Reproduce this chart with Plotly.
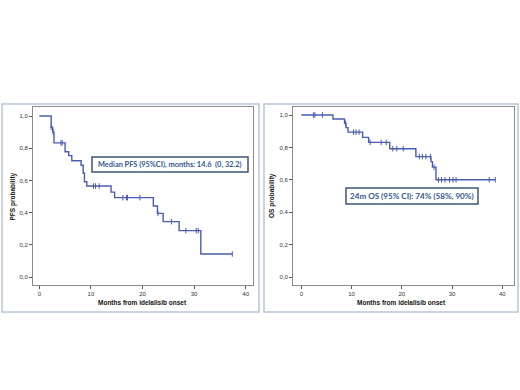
import numpy as np
import plotly.graph_objects as go

# ---------------- data ----------------
pfs_times = [0, 2.3, 2.6, 2.85, 5.0, 5.7, 6.3, 8.1, 8.5, 8.75, 9.2, 13.9, 14.6, 22.1, 22.9, 24.0, 27.1, 31.3, 37.4]
pfs_surv = [1.0, 0.93, 0.90, 0.833, 0.778, 0.754, 0.722, 0.694, 0.644, 0.592, 0.565, 0.527, 0.493, 0.441, 0.395, 0.344, 0.288, 0.143, 0.143]
pfs_censor = [2.3, 2.7, 4.2, 4.45, 10.5, 10.9, 11.6, 16.2, 16.9, 17.1, 19.5, 23.0, 25.6, 28.4, 30.4, 30.8, 37.4]

os_times = [0, 6.3, 8.6, 8.9, 9.3, 12.2, 13.4, 17.6, 22.8, 25.8, 26.1, 26.8, 38.6]
os_surv = [1.0, 0.975, 0.949, 0.922, 0.894, 0.862, 0.831, 0.792, 0.743, 0.712, 0.678, 0.600, 0.600]
os_censor = [2.4, 2.7, 4.2, 8.8, 10.4, 10.9, 11.5, 13.7, 15.9, 16.9, 18.2, 19.0, 20.3,
             23.5, 24.1, 24.8, 25.7, 26.4, 27.3, 27.9, 28.6, 29.5, 30.2, 30.8, 37.4, 38.6]

x_ticks = [0, 10, 20, 30, 40]
y_ticks = [0.0, 0.2, 0.4, 0.6, 0.8, 1.0]
y_ticklabels = ["0,0", "0,2", "0,4", "0,6", "0,8", "1,0"]

pfs_ytitle = "PFS probability"
os_ytitle = "OS probability"
x_title = "Months from idelalisib onset"
pfs_note = "Median PFS (95%CI), months: 14.6  (0, 32.2)"
os_note = "24m OS (95% CI): 74% (58%, 90%)"

# ---------------- layout helpers ----------------
W, H = 520, 390
LINE = "#4a5cb0"


def px(x):
    return x / W


def py(y):
    return 1 - y / H


def surv_at(times, surv, t):
    idx = np.searchsorted(np.array(times), t, side="right") - 1
    return surv[max(idx, 0)]


fig = go.Figure()

panels = [
    (pfs_times, pfs_surv, pfs_censor, pfs_ytitle, "x", "y", (33, 253, 107, 285), 39.3, 245.7, 116, 277),
    (os_times, os_surv, os_censor, os_ytitle, "x2", "y2", (293, 514, 107, 285), 301.3, 502.3, 115, 277),
]

for i, (tt, ss, cc, ytitle, xa, ya, frame, x0p, x40p, y1p, y0p) in enumerate(panels):
    fig.add_trace(go.Scatter(x=tt, y=ss, mode="lines", line=dict(color=LINE, width=1.4, shape="hv"),
                             xaxis=xa, yaxis=ya, showlegend=False, hoverinfo="skip"))
    cy = [surv_at(tt, ss, t) for t in cc]
    fig.add_trace(go.Scatter(x=cc, y=cy, mode="markers",
                             marker=dict(symbol="line-ns", size=4, line=dict(color=LINE, width=1)),
                             xaxis=xa, yaxis=ya, showlegend=False, hoverinfo="skip"))
    l, r, t, b = frame
    ppm = (x40p - x0p) / 40.0
    xr = [(l - x0p) / ppm, 40 + (r - x40p) / ppm]
    ppu = (y0p - y1p)
    yr = [-(b - y0p) / ppu, 1 + (y1p - t) / ppu]
    axis_common = dict(showgrid=False, zeroline=False, showline=True, linecolor="#8c8c8c", linewidth=1,
                       mirror=True, ticks="outside", ticklen=3, tickcolor="#555555",
                       tickfont=dict(family="Liberation Sans", size=6, color="#333333"))
    xkey = "xaxis" if xa == "x" else "xaxis2"
    ykey = "yaxis" if ya == "y" else "yaxis2"
    fig.layout[xkey] = dict(domain=[px(l), px(r)], range=xr, anchor=ya, tickvals=x_ticks,
                            ticktext=[str(v) for v in x_ticks], **axis_common)
    fig.layout[ykey] = dict(domain=[py(b), py(t)], range=yr, anchor=xa, tickvals=y_ticks,
                            ticktext=y_ticklabels, **axis_common)
    fig.add_annotation(x=px((x0p + x40p) / 2), y=py(302), xref="paper", yref="paper",
                       xanchor="center", yanchor="middle",
                       text="<b>" + x_title + "</b>", showarrow=False,
                       font=dict(family="Liberation Sans", size=6.5, color="#111111"))
    fig.add_annotation(x=px(l - 21), y=py((y0p + y1p) / 2), xref="paper", yref="paper",
                       xanchor="center", yanchor="middle",
                       text="<b>" + ytitle + "</b>", showarrow=False, textangle=-90,
                       font=dict(family="Liberation Sans", size=6.5, color="#111111"))

# outer panel borders
for (l, r) in [(2, 259), (264, 518)]:
    fig.add_shape(type="rect", xref="paper", yref="paper", x0=px(l), x1=px(r), y0=py(312), y1=py(104),
                  line=dict(color="#b9c5d6", width=1.5))

# note boxes
notes = [(pfs_note, (92, 248, 157, 172), 7.4), (os_note, (346, 478, 188, 204), 8.1)]
for text, (l, r, t, b), fs in notes:
    fig.add_shape(type="rect", xref="paper", yref="paper", x0=px(l), x1=px(r), y0=py(b), y1=py(t),
                  line=dict(color="#3d5575", width=1.5), fillcolor="white")
    fig.add_annotation(x=px((l + r) / 2), y=py((t + b) / 2), xref="paper", yref="paper",
                       xanchor="center", yanchor="middle",
                       text="<b>" + text + "</b>", showarrow=False,
                       font=dict(family="Lato", size=fs, color="#35578f"))

fig.update_layout(width=W, height=H, margin=dict(l=0, r=0, t=0, b=0),
                  paper_bgcolor="white", plot_bgcolor="white")

fig.write_html("out.html", config={"displayModeBar": False},
               post_script="document.body.style.margin='0';document.body.style.overflow='hidden';")
